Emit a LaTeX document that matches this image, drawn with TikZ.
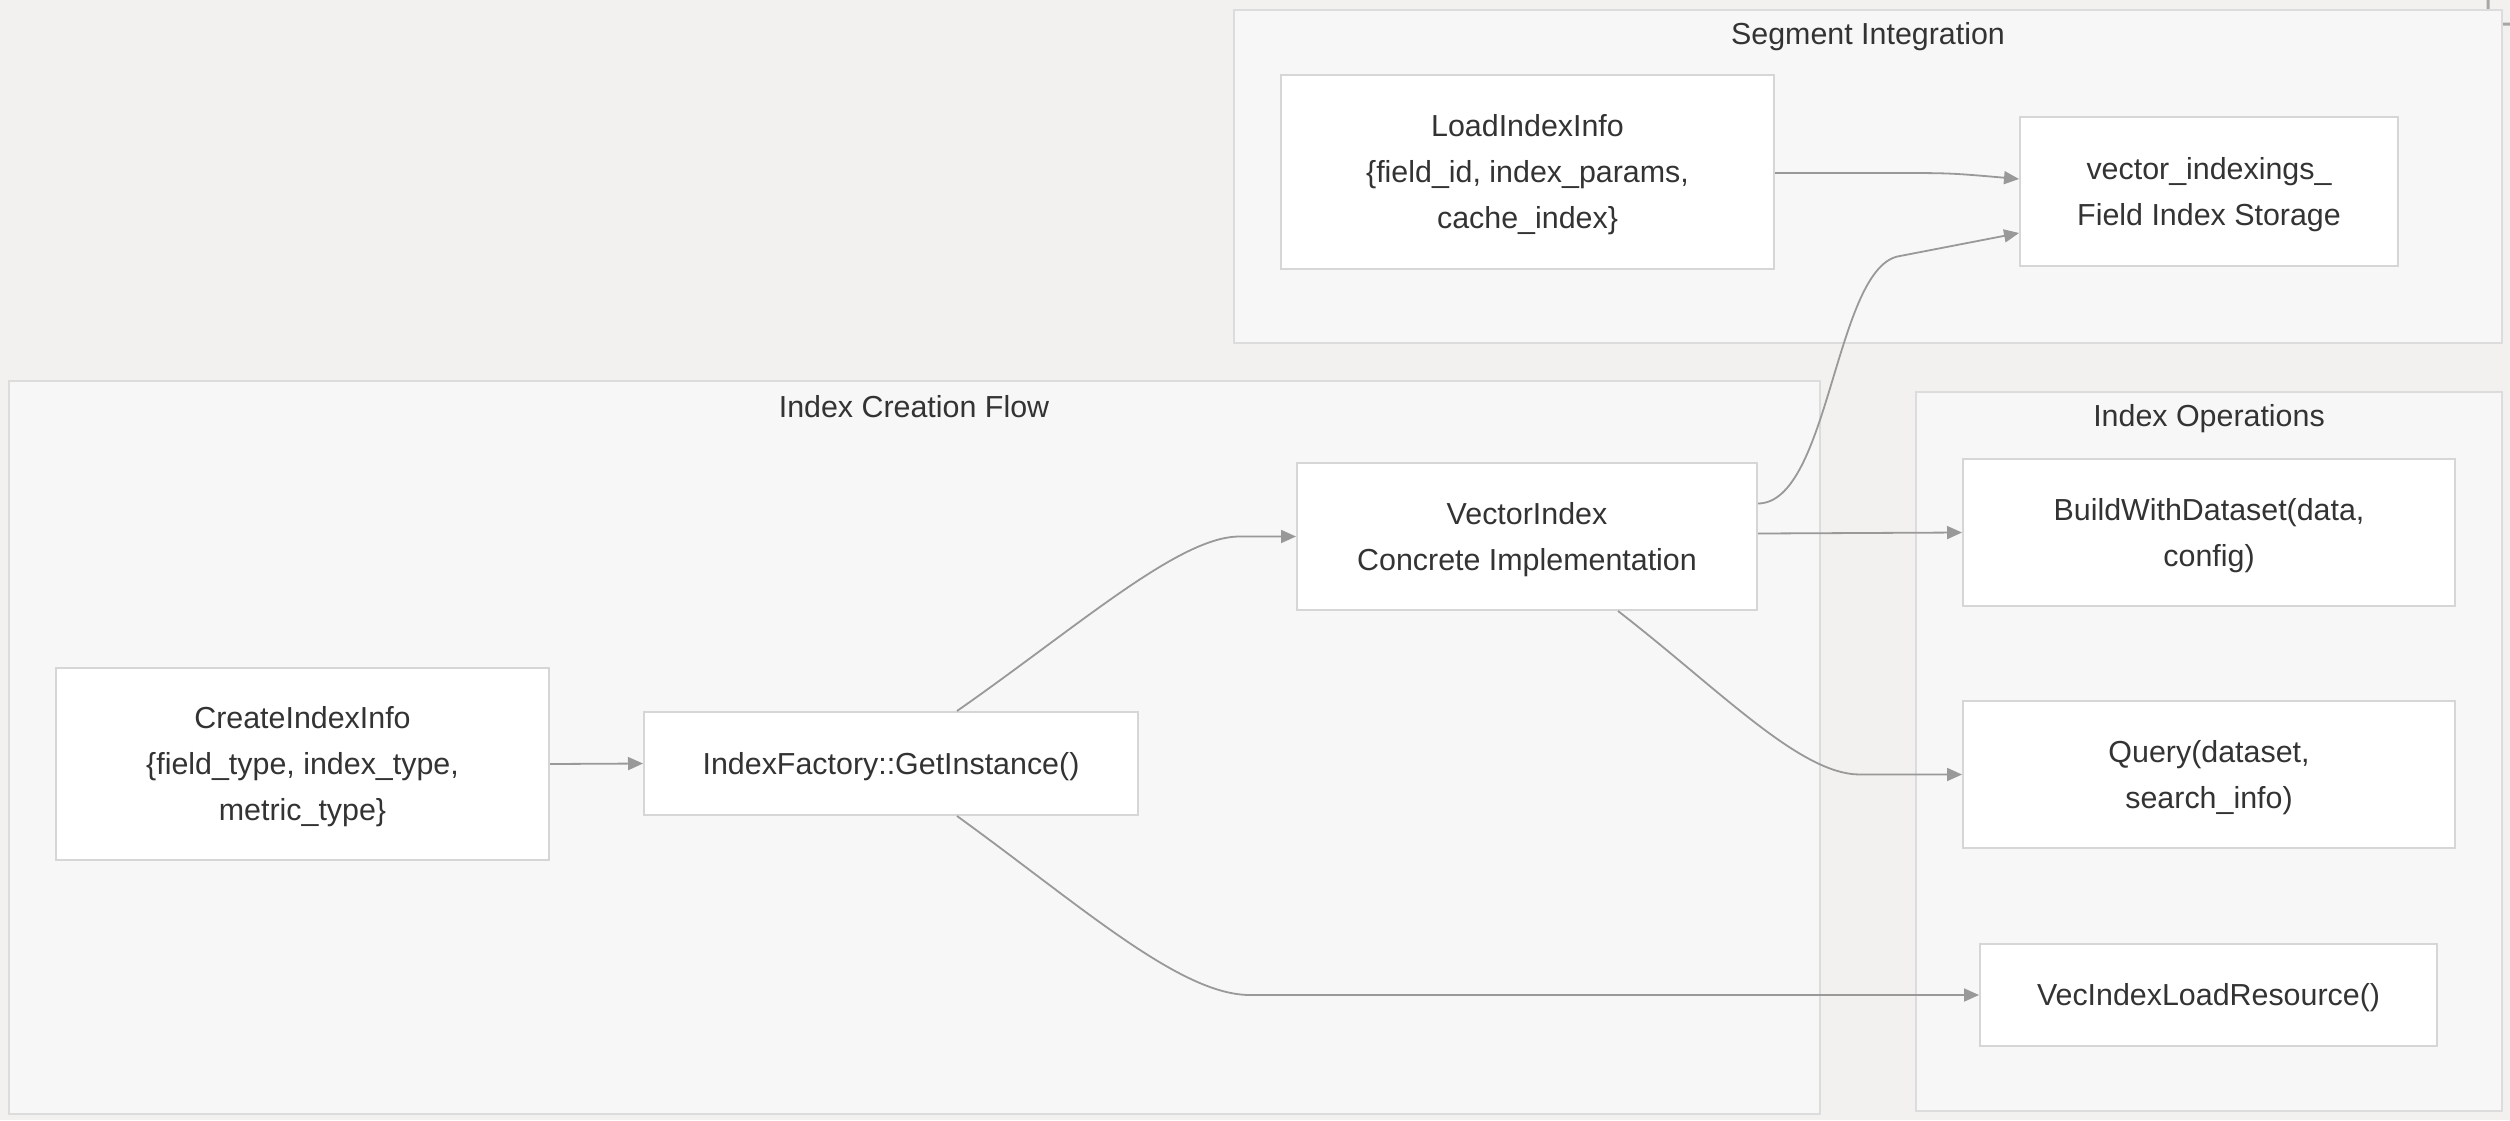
\documentclass[tikz,border=0pt]{standalone}
\usepackage{fontspec}
\setmainfont{Liberation Sans}
\usetikzlibrary{arrows.meta,calc}

\definecolor{canvas}{HTML}{F2F1EF}
\definecolor{groupfill}{HTML}{F7F7F7}
\definecolor{groupline}{HTML}{DCDCDC}
\definecolor{boxline}{HTML}{D6D6D6}
\definecolor{wire}{HTML}{999999}
\definecolor{ink}{HTML}{333333}

\tikzset{
  group/.style={draw=groupline, fill=groupfill, line width=2pt},
  grouptitle/.style={text=ink, font=\fontsize{30.4}{36}\selectfont, inner sep=0pt},
  box/.style={draw=boxline, fill=white, line width=2pt, inner sep=0pt},
  boxtext/.style={text=ink, align=center, inner sep=0pt, yshift=-3pt,
    font=\fontsize{30.4}{46}\selectfont},
  link/.style={draw=wire, line width=1.8pt,
    -{Triangle[length=15pt,width=13pt]}},
}

\begin{document}
\begin{tikzpicture}[x=1pt, y=-1pt]
  % canvas
  \fill[canvas] (0,0) rectangle (2510,1120);
  \useasboundingbox (0,0) rectangle (2510,1120);

  % corner control, partly cut off
  \draw[draw=gray!70, line width=3pt, rounded corners=8pt] (2488,-20) rectangle (2540,24);

  % groups
  \draw[group] (1234,10) rectangle (2502,343);
  \node[grouptitle] (segtitle) at (1868,37) {Segment Integration};

  \draw[group] (9,381) rectangle (1820,1114);
  \node[grouptitle] (flowtitle) at (914,407) {Index Creation Flow};

  \draw[group] (1916,392) rectangle (2502,1111);
  \node[grouptitle] (opstitle) at (2209,419) {Index Operations};

  % boxes, each with its text set as a centred label
  \node[box, minimum width=493pt, minimum height=194pt,
    label={[boxtext]center:{LoadIndexInfo\\\{field\_id, index\_params,\\cache\_index\}}}]
    (load) at (1527.5,172) {};
  \node[box, minimum width=378pt, minimum height=149pt,
    label={[boxtext]center:{vector\_indexings\_\\Field Index Storage}}]
    (vstore) at (2209,191.5) {};
  \node[box, minimum width=493pt, minimum height=192pt,
    label={[boxtext]center:{CreateIndexInfo\\\{field\_type, index\_type,\\metric\_type\}}}]
    (create) at (302.5,764) {};
  \node[box, minimum width=494pt, minimum height=103pt,
    label={[boxtext]center:{IndexFactory::GetInstance()}}]
    (factory) at (891,763.5) {};
  \node[box, minimum width=460pt, minimum height=147pt,
    label={[boxtext]center:{VectorIndex\\Concrete Implementation}}]
    (vindex) at (1527,536.5) {};
  \node[box, minimum width=492pt, minimum height=147pt,
    label={[boxtext]center:{BuildWithDataset(data,\\config)}}]
    (build) at (2209,532.5) {};
  \node[box, minimum width=492pt, minimum height=147pt,
    label={[boxtext]center:{Query(dataset,\\search\_info)}}]
    (query) at (2209,774.5) {};
  \node[box, minimum width=457pt, minimum height=102pt,
    label={[boxtext]center:{VecIndexLoadResource()}}]
    (vres) at (2208.5,995) {};

  % connectors
  \draw[link] (create.east) -- (factory.west);
  \draw[link] ($(factory.north)+(66,0)$) .. controls (1080,625) and (1180,536) .. (1240,536.5) -- (vindex.west);
  \draw[link] ($(factory.south)+(66,0)$) .. controls (1080,905) and (1180,995) .. (1250,995) -- (vres.west);
  \draw[link] ($(vindex.east)+(0,-3)$) -- (build.west);
  \draw[link] ($(vindex.south)+(91,0)$) .. controls (1720,690) and (1800,774.5) .. (1860,774.5) -- (query.west);
  \draw[link] ($(vindex.east)+(0,-33)$) .. controls (1830,503) and (1835,265) .. (1900,256) -- ($(vstore.west)+(0,41.5)$);
  \draw[link] ($(load.east)+(0,1)$) -- (1890,173) .. controls (1950,173) .. ($(vstore.west)+(0,-12.5)$);
\end{tikzpicture}
\end{document}
